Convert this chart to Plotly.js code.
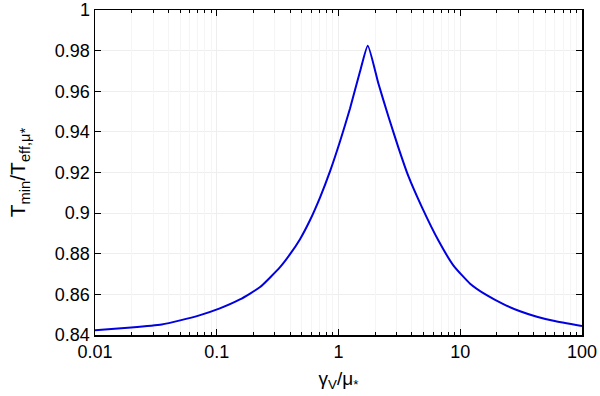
<!DOCTYPE html>
<html>
<head>
<meta charset="utf-8">
<script src="https://cdn.plot.ly/plotly-3.0.1.min.js"></script>
<style>
  body { margin: 0; padding: 0; background: #fff; }
  #c1 { width: 600px; height: 396px; }
</style>
</head>
<body>
<div id="c1"></div>
<script>
// values
var gam = [0.01, 0.0198, 0.0353, 0.05, 0.073, 0.106, 0.155, 0.227, 0.331, 0.40, 0.483, 0.583, 0.706, 0.853, 1.03, 1.245, 1.5, 1.74,
           2.13, 2.57, 3.10, 3.75, 4.83, 6.62, 8.80, 12.05, 16.5, 22.6, 31.0, 42.6, 58.3, 100];
var tmin = [0.8424, 0.8437, 0.8452, 0.8472, 0.8498, 0.8531, 0.8575, 0.8636, 0.8734, 0.8798, 0.8872, 0.8965, 0.9078, 0.9207, 0.9354, 0.9517, 0.9696, 0.9825,
            0.9637, 0.9476, 0.9324, 0.9182, 0.9031, 0.8865, 0.8742, 0.8653, 0.8596, 0.8552, 0.8517, 0.8490, 0.8470, 0.8444];

var xTicks = [0.01, 0.1, 1, 10, 100];
var xTickText = ["0.01", "0.1", "1", "10", "100"];
var yTicks = [0.84, 0.86, 0.88, 0.9, 0.92, 0.94, 0.96, 0.98, 1];
var yTickText = ["0.84", "0.86", "0.88", "0.9", "0.92", "0.94", "0.96", "0.98", "1"];
// minor tick positions 2..9 of each decade
var minorTicks = [];
for (var d = -2; d < 2; d++) {
  for (var k = 2; k <= 9; k++) minorTicks.push(k * Math.pow(10, d));
}

var trace1 = {
  x: gam,
  y: tmin,
  mode: 'lines',
  type: 'scatter',
  line: {color: '#0000e0', width: 2, shape: 'spline', smoothing: 0.5}
};

var fam = '"Liberation Sans", Arial, sans-serif';
var fnt = {family: fam, size: 18, color: '#000000'};

var layout = {
  width: 600,
  height: 396,
  margin: {l: 95, r: 18, t: 10, b: 61},
  paper_bgcolor: '#fff',
  plot_bgcolor: '#fff',
  showlegend: false,
  font: fnt,
  xaxis: {
    type: 'log',
    range: [-2, 2],
    tickvals: xTicks,
    ticktext: xTickText,
    ticks: 'inside',
    ticklen: 6,
    tickcolor: '#000',
    showline: true,
    linecolor: '#000',
    linewidth: 1.5,
    mirror: 'ticks',
    showgrid: true,
    gridcolor: '#eeeeee',
    gridwidth: 1,
    zeroline: false,
    ticklabeloverflow: 'allow',
    tickfont: fnt,
    title: {text: 'γ<sub>V</sub>/μ<sub>*</sub>', font: {family: fam, size: 19, color: '#000'}, standoff: 10}
  },
  xaxis2: {
    type: 'log',
    range: [-2, 2],
    overlaying: 'x',
    side: 'bottom',
    tickvals: minorTicks,
    showticklabels: false,
    ticks: 'inside',
    ticklen: 3,
    tickcolor: '#000',
    showline: true,
    linecolor: '#000',
    linewidth: 1.5,
    mirror: 'ticks',
    showgrid: true,
    gridcolor: '#f5f5f5',
    zeroline: false
  },
  yaxis: {
    range: [0.84, 1.00005],
    tickvals: yTicks,
    ticktext: yTickText,
    ticks: 'inside',
    ticklen: 6,
    tickcolor: '#000',
    showline: true,
    linecolor: '#000',
    linewidth: 1.5,
    mirror: 'ticks',
    showgrid: true,
    gridcolor: '#eeeeee',
    zeroline: false,
    ticklabeloverflow: 'allow',
    tickfont: fnt,
    title: {text: 'T<sub>min</sub>/T<sub>eff,μ*</sub>', font: {family: fam, size: 21, color: '#000'}, standoff: 23}
  }
};

// empty trace to bring up the minor tick axis
var trace2 = {x: [1], y: [0.9], xaxis: 'x2', mode: 'markers', marker: {opacity: 0}, hoverinfo: 'skip'};

Plotly.newPlot('c1', [trace2, trace1], layout, {displayModeBar: false, staticPlot: true});
</script>
</body>
</html>
